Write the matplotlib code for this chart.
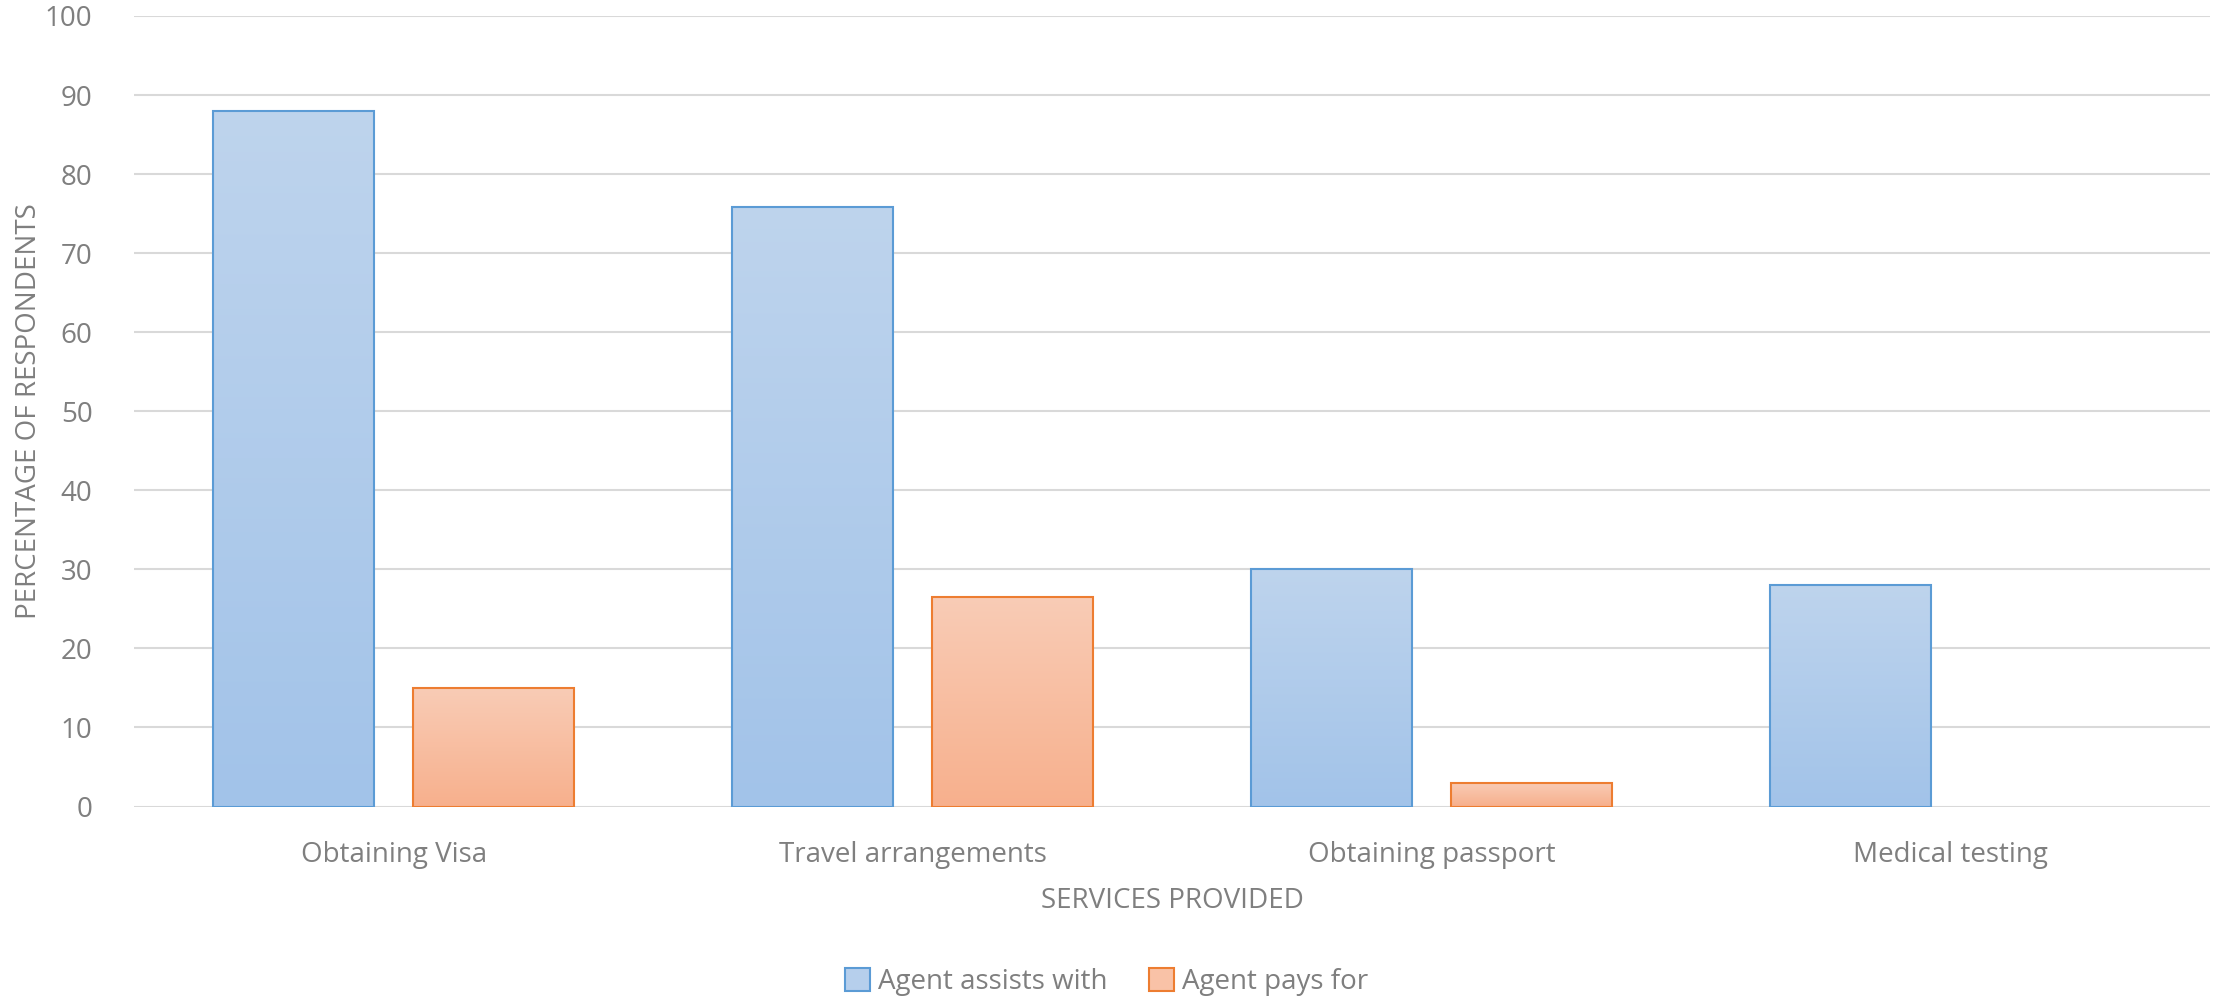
import matplotlib
matplotlib.use('Agg')
import matplotlib.pyplot as plt
import numpy as np
from matplotlib.colors import LinearSegmentedColormap
from matplotlib.patches import Patch

# data
categories = ['Obtaining Visa', 'Travel arrangements', 'Obtaining passport', 'Medical testing']
assists_with = [88, 75.8, 30, 28]
pays_for = [15, 26.5, 3, 0]

plt.rcParams['font.family'] = ['Open Sans', 'DejaVu Sans']
text_grey = '#7f7f7f'

fig = plt.figure(figsize=(22.13, 10), dpi=100)
ax = fig.add_axes([0.0606, 0.1935, 0.938, 0.7905])

x = np.arange(len(categories))
w = 0.31
off = 0.193

blue_bars = ax.bar(x - off, assists_with, w, facecolor='none',
                   edgecolor='#5b9bd5', linewidth=1.5, zorder=3)
orange_bars = ax.bar(x + off, pays_for, w, facecolor='none',
                     edgecolor='#ed7d31', linewidth=1.5, zorder=3)

# vertical gradient inside each bar
blue_cmap = LinearSegmentedColormap.from_list('b', ['#a2c3e9', '#bed4ed'])
orange_cmap = LinearSegmentedColormap.from_list('o', ['#f7b08d', '#f9ccb6'])
grad = np.linspace(0, 1, 256).reshape(-1, 1)
for bars, cmap in [(blue_bars, blue_cmap), (orange_bars, orange_cmap)]:
    for p in bars:
        h = p.get_height()
        if h <= 0:
            p.set_edgecolor('none')
            continue
        x0 = p.get_x()
        im = ax.imshow(grad, cmap=cmap, origin='lower', aspect='auto',
                       extent=[x0, x0 + p.get_width(), 0, h], zorder=2)
        im.set_clip_path(p)

ax.set_xlim(-0.5, len(categories) - 0.5)
ax.set_ylim(0, 100)
ax.set_yticks(range(0, 101, 10))
ax.set_xticks(x)
ax.set_xticklabels(categories)
ax.tick_params(axis='both', length=0, labelsize=20, colors=text_grey)
ax.tick_params(axis='y', pad=30)
ax.tick_params(axis='x', pad=25)
ax.grid(axis='y', color='#d9d9d9', linewidth=1.5, zorder=0)
for s in ax.spines.values():
    s.set_visible(False)

ax.set_xlabel('SERVICES PROVIDED', fontsize=20, color=text_grey, labelpad=13)
ax.set_ylabel('PERCENTAGE OF RESPONDENTS', fontsize=20, color=text_grey)
ax.yaxis.set_label_coords(-0.044, 0.5)

# legend with light square swatches
handles = [Patch(facecolor='#b6cfec', edgecolor='#5b9bd5', linewidth=1.5),
           Patch(facecolor='#f9c2a7', edgecolor='#ed7d31', linewidth=1.5)]
leg = fig.legend(handles, ['Agent assists with', 'Agent pays for'],
                 loc='center', bbox_to_anchor=(0.5, 0.018), ncol=2,
                 frameon=False, fontsize=20, handlelength=0.9, handleheight=0.9,
                 handletextpad=0.3, columnspacing=1.5)
for t in leg.get_texts():
    t.set_color(text_grey)

fig.savefig('out.png', dpi=100)
